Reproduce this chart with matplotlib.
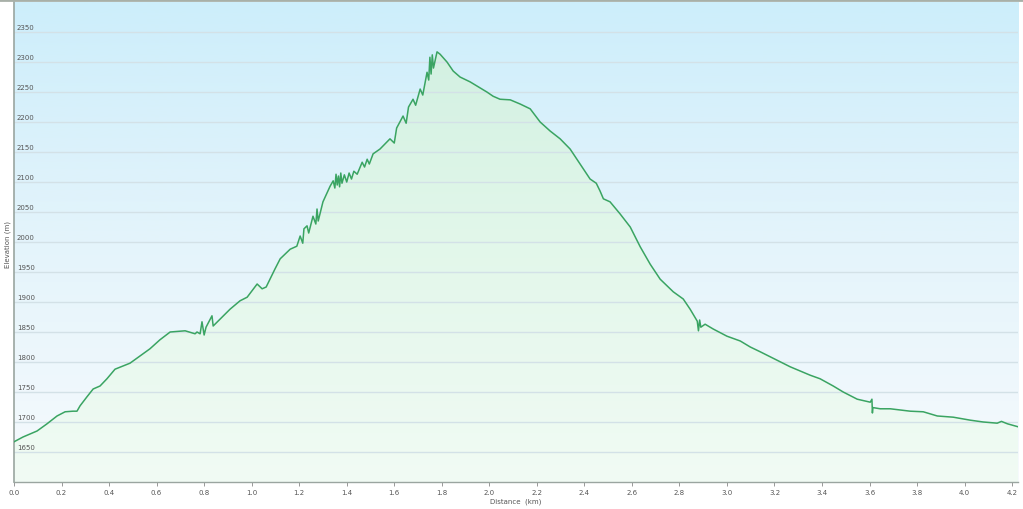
import numpy as np
import matplotlib
matplotlib.use('Agg')
import matplotlib.pyplot as plt
from matplotlib.colors import LinearSegmentedColormap

# distance (km) and elevation (m)
dist = [0.0, 0.038, 0.097, 0.139, 0.181, 0.215, 0.248, 0.265, 0.278, 0.307, 0.333, 0.362,
        0.391, 0.425, 0.488, 0.572, 0.614, 0.657, 0.72, 0.762, 0.770, 0.783, 0.791, 0.80,
        0.808, 0.833, 0.838, 0.909, 0.951, 0.981, 1.0, 1.023, 1.044, 1.061, 1.098, 1.12,
        1.162, 1.19, 1.204, 1.215, 1.22, 1.233, 1.24, 1.258, 1.27, 1.275, 1.28, 1.30,
        1.33, 1.343, 1.35, 1.355, 1.36, 1.365, 1.37, 1.375, 1.38, 1.39, 1.40, 1.41,
        1.42, 1.43, 1.444, 1.465, 1.475, 1.486, 1.495, 1.511, 1.54, 1.582, 1.60, 1.61,
        1.637, 1.65, 1.66, 1.679, 1.69, 1.709, 1.72, 1.738, 1.745, 1.75, 1.755, 1.76,
        1.765, 1.78, 1.793, 1.822, 1.848, 1.877, 1.919, 1.99, 2.016, 2.045, 2.088, 2.13,
        2.172, 2.214, 2.256, 2.298, 2.34, 2.424, 2.45, 2.466, 2.48, 2.508, 2.55, 2.593,
        2.635, 2.677, 2.719, 2.774, 2.816, 2.845, 2.875, 2.88, 2.885, 2.89, 2.908, 2.942,
        3.0, 3.056, 3.098, 3.14, 3.2, 3.266, 3.308, 3.35, 3.392, 3.447, 3.489, 3.548,
        3.603, 3.610, 3.612, 3.614, 3.645, 3.687, 3.771, 3.826, 3.885, 3.952, 4.024, 4.078,
        4.137, 4.155, 4.18, 4.225]
elev = [1667, 1675, 1685, 1697, 1710, 1717, 1718, 1718, 1727, 1742, 1755, 1760,
        1772, 1788, 1798, 1822, 1837, 1850, 1852, 1847, 1850, 1847, 1867, 1845,
        1858, 1877, 1860, 1888, 1902, 1908, 1918, 1930, 1922, 1925, 1955, 1972,
        1988, 1993, 2010, 1998, 2022, 2027, 2015, 2043, 2030, 2055, 2035, 2067,
        2093, 2102, 2090, 2113, 2095, 2110, 2092, 2115, 2098, 2112, 2100, 2115,
        2105, 2118, 2113, 2133, 2125, 2138, 2130, 2147, 2155, 2172, 2165, 2190,
        2210, 2198, 2225, 2238, 2228, 2255, 2245, 2283, 2270, 2308, 2280, 2312,
        2290, 2317, 2313, 2300, 2285, 2275, 2267, 2250, 2243, 2238, 2237, 2230,
        2222, 2200, 2185, 2172, 2155, 2105, 2098, 2085, 2072, 2067, 2047, 2025,
        1992, 1963, 1938, 1917, 1905, 1888, 1868, 1852, 1870, 1858, 1863, 1855,
        1843, 1835, 1825, 1817, 1805, 1792, 1785, 1778, 1772, 1760, 1750, 1738,
        1733, 1738, 1715, 1724, 1722, 1722, 1718, 1717, 1710, 1708, 1703, 1700,
        1698, 1701, 1697, 1692]

yticks = [1650, 1700, 1750, 1800, 1850, 1900, 1950, 2000, 2050, 2100, 2150, 2200, 2250, 2300, 2350]
xticks = [0.0, 0.2, 0.4, 0.6, 0.8, 1.0, 1.2, 1.4, 1.6, 1.8, 2.0, 2.2, 2.4, 2.6, 2.8,
          3.0, 3.2, 3.4, 3.6, 3.8, 4.0, 4.2]

fig = plt.figure(figsize=(10.23, 5.10), dpi=100)
ax = fig.add_axes([0.0137, 0.053, 0.9815, 0.941])
xmin, xmax, ymin, ymax = 0, 4.225, 1600, 2400
ax.set_xlim(xmin, xmax)
ax.set_ylim(ymin, ymax)

# sky gradient behind the chart
sky = LinearSegmentedColormap.from_list('sky', ['#f6fafd', '#e4f4fb', '#cdeefb'])
grad = np.linspace(0, 1, 256).reshape(-1, 1)
ax.imshow(grad, cmap=sky, aspect='auto', origin='lower',
          extent=[xmin, xmax, ymin, ymax], zorder=0)

# green gradient under the profile
grn = LinearSegmentedColormap.from_list('grn', ['#f1fbf4', '#e2f7ea', '#cfefe0'])
im = ax.imshow(grad, cmap=grn, aspect='auto', origin='lower',
               extent=[xmin, xmax, ymin, ymax], zorder=1)
poly = ax.fill_between(dist, elev, ymin, color='none', lw=0)
clip = plt.Polygon(poly.get_paths()[0].vertices, transform=ax.transData)
im.set_clip_path(clip)

for t in yticks:
    ax.axhline(t, color='#d3e1e7', lw=1.0, zorder=2)
    ax.text(0.012, t + 4, str(t), fontsize=5, color='#555555', ha='left', va='bottom', zorder=3)

ax.plot(dist, elev, color='#3aa462', lw=1.1, zorder=4)

ax.set_yticks([])
ax.set_xticks(xticks)
ax.set_xticklabels(['%.1f' % v for v in xticks], fontsize=5, color='#555555')
ax.tick_params(axis='x', length=3, width=0.6, color='#888888', pad=2)
ax.set_xlabel('Distance  (km)', fontsize=5, color='#555555', labelpad=2)
fig.text(0.008, 0.52, 'Elevation (m)', rotation=90, fontsize=5, color='#555555',
         ha='center', va='center')

for s in ['top', 'right']:
    ax.spines[s].set_visible(False)
ax.spines['left'].set_color('#9aa5a0')
ax.spines['left'].set_linewidth(1.2)
ax.spines['bottom'].set_color('#9aa5a0')
ax.spines['bottom'].set_linewidth(1.0)
fig.add_artist(plt.Line2D([0, 1], [0.998, 0.998], color='#a8b0a8', lw=2))

fig.savefig('out.png', dpi=100)
